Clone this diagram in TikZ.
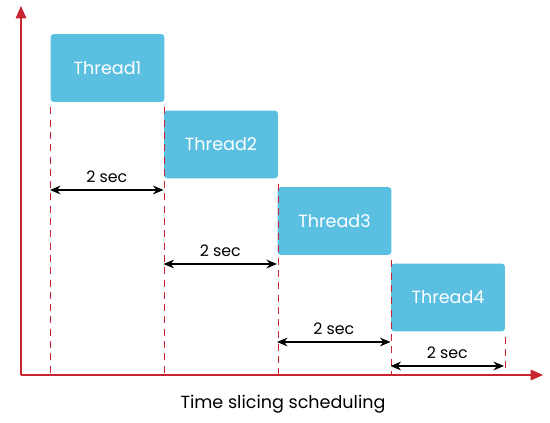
\documentclass[tikz,border=0pt]{standalone}
\usepackage{fontspec}
\setmainfont{Poppins}
\usepackage{xcolor}
\usetikzlibrary{positioning,arrows.meta}
\definecolor{threadblue}{HTML}{5BBFE2}
\definecolor{axisred}{HTML}{C8232F}
\tikzset{
    thread/.style={fill=threadblue, text=white, rounded corners=2pt, minimum width=2.28cm, minimum height=1.36cm, inner sep=0pt, font=\fontsize{10}{12}\selectfont},
    slice/.style={draw=axisred, dashed, dash pattern=on 4pt off 3pt, line width=0.5pt},
    axis/.style={draw=axisred, line width=0.8pt, -{Triangle[length=7pt, width=6pt]}},
    span/.style={draw=black, line width=0.7pt, {Stealth[length=6pt, width=5pt]}-{Stealth[length=6pt, width=5pt]}},
    span label/.style={font=\fontsize{9}{11}\selectfont, inner sep=1pt}
}

\begin{document}
\begin{tikzpicture}[x=0.02cm, y=-0.02cm]
    \useasboundingbox (0,0) rectangle (550,422);

    % axes
    \coordinate (origin) at (21,375);
    \coordinate (ytop) at (21,6);
    \coordinate (xend) at (543,375);
    \draw[axis] (origin) -- (ytop);
    \draw[axis] (origin) -- (xend);

    % time slices
    \node[thread] (t1) at (107.5,68) {Thread1};
    \node[thread] (t2) at (221,144.5) {Thread2};
    \node[thread] (t3) at (334.5,221) {Thread3};
    \node[thread] (t4) at (448,297.5) {Thread4};

    \draw[slice] ([yshift=-0.1cm]t1.south west) -- (t1.south west |- origin);
    \draw[slice] ([yshift=-0.1cm]t1.south east) -- (t1.south east |- origin);
    \draw[slice] ([yshift=-0.1cm]t2.south east) -- (t2.south east |- origin);
    \draw[slice] ([yshift=-0.1cm]t3.south east) -- (t3.south east |- origin);
    \draw[slice] ([yshift=-0.1cm]t4.south east) -- (t4.south east |- origin);

    \coordinate (s0) at (50,190);
    \coordinate (s1) at (163.5,190);
    \coordinate (s2) at (163.5,264);
    \coordinate (s3) at (277,264);
    \coordinate (s4) at (277,342);
    \coordinate (s5) at (390.5,342);
    \coordinate (s6) at (390.5,366);
    \coordinate (s7) at (504,366);
    \draw[span] (s0) -- (s1) node[midway, above=3pt, span label] {2 sec};
    \draw[span] (s2) -- (s3) node[midway, above=3pt, span label] {2 sec};
    \draw[span] (s4) -- (s5) node[midway, above=3pt, span label] {2 sec};
    \draw[span] (s6) -- (s7) node[midway, above=3pt, span label] {2 sec};

    \node[font=\fontsize{10}{12}\selectfont] (caption) at (283,404) {Time slicing scheduling};
\end{tikzpicture}
\end{document}
